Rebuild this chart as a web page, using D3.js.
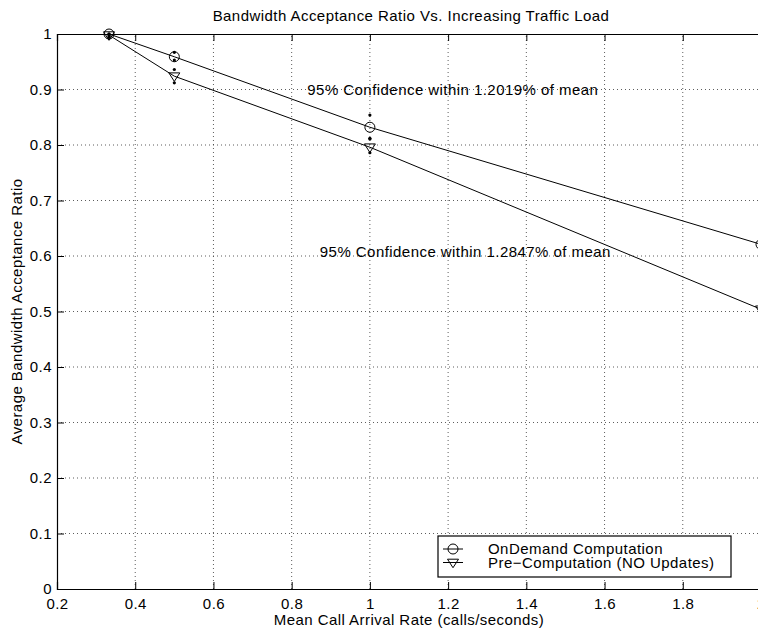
<!DOCTYPE html>
<html>
<head>
<meta charset="utf-8">
<script src="https://cdn.jsdelivr.net/npm/d3@7"></script>
<style>
  body { margin: 0; background: #fff; }
  text { font-family: "Liberation Sans", Arial, sans-serif; fill: #000; letter-spacing: 0.45px; }
</style>
</head>
<body>
<div id="chart"></div>
<script>
// Data
const arrivalRate = [0.333, 0.5, 1, 2];
const onDemand = [1.0, 0.959, 0.832, 0.621];
const onDemandLow = [0.997, 0.953, 0.811, 0.61];
const onDemandHigh = [1.0, 0.967, 0.854, 0.632];
const preComp = [0.998, 0.924, 0.796, 0.504];
const preCompLow = [0.994, 0.912, 0.786, 0.49];
const preCompHigh = [1.0, 0.936, 0.812, 0.518];

const xTicks = [0.2, 0.4, 0.6, 0.8, 1, 1.2, 1.4, 1.6, 1.8, 2];
const yTicks = [0, 0.1, 0.2, 0.3, 0.4, 0.5, 0.6, 0.7, 0.8, 0.9, 1];
const seriesNames = ["OnDemand Computation", "Pre\u2212Computation (NO Updates)"];
const notes = [
  { x: 0.84, y: 0.9, text: "95% Confidence within 1.2019% of mean" },
  { x: 0.872, y: 0.607, text: "95% Confidence within 1.2847% of mean" }
];

const W = 758, H = 630;
const margin = { top: 34, right: -3, bottom: 41, left: 57 };
const fs = "15px";

const svg = d3.select("#chart").append("svg")
  .attr("width", W)
  .attr("height", H);

const x = d3.scaleLinear().domain([0.2, 2]).range([margin.left, W - margin.right]);
const y = d3.scaleLinear().domain([0, 1]).range([H - margin.bottom, margin.top]);

// dotted grid
svg.append("g").selectAll("line")
  .data(xTicks.slice(1, -1))
  .join("line")
  .attr("x1", d => x(d)).attr("x2", d => x(d))
  .attr("y1", y(0)).attr("y2", y(1))
  .attr("stroke", "#333").attr("stroke-width", 0.8)
  .attr("stroke-dasharray", "1,3");

svg.append("g").selectAll("line")
  .data(yTicks.slice(1, -1))
  .join("line")
  .attr("x1", x(0.2)).attr("x2", x(2))
  .attr("y1", d => y(d)).attr("y2", d => y(d))
  .attr("stroke", "#333").attr("stroke-width", 0.8)
  .attr("stroke-dasharray", "1,3");

// axes (ticks inside)
const tickLen = 7;
const xAxis = svg.append("g")
  .attr("transform", `translate(0,${y(0)})`)
  .call(d3.axisBottom(x).tickValues(xTicks).tickSize(-tickLen).tickPadding(9).tickFormat(d3.format("")));
const xTop = svg.append("g")
  .attr("transform", `translate(0,${y(1)})`)
  .call(d3.axisTop(x).tickValues(xTicks).tickSize(-tickLen).tickFormat(""));
const yAxis = svg.append("g")
  .attr("transform", `translate(${x(0.2)},0)`)
  .call(d3.axisLeft(y).tickValues(yTicks).tickSize(-tickLen).tickPadding(5).tickFormat(d3.format("")));

[xAxis, xTop, yAxis].forEach(g => {
  g.select(".domain").attr("stroke", "#000").attr("stroke-width", 1.2);
  g.selectAll(".tick line").attr("stroke", "#000");
  g.selectAll(".tick text").style("font-size", fs).attr("fill", "#000");
});
xAxis.selectAll(".tick text").attr("dy", "0.71em");

// series lines
const line = d3.line().x(d => x(d[0])).y(d => y(d[1]));
const sets = [
  { vals: onDemand, lo: onDemandLow, hi: onDemandHigh, marker: "circle" },
  { vals: preComp, lo: preCompLow, hi: preCompHigh, marker: "triangle" }
];

const triPath = s => `M${-s},${-s * 0.6}L${s},${-s * 0.6}L0,${s * 0.95}Z`;

function drawMarker(g, type, cx, cy) {
  if (type === "circle") {
    g.append("circle").attr("cx", cx).attr("cy", cy).attr("r", 5)
      .attr("fill", "none").attr("stroke", "#000").attr("stroke-width", 1);
  } else {
    g.append("path").attr("d", triPath(5.5))
      .attr("transform", `translate(${cx},${cy})`)
      .attr("fill", "none").attr("stroke", "#000").attr("stroke-width", 1);
  }
}

sets.forEach(s => {
  const pts = arrivalRate.map((r, i) => [r, s.vals[i]]);
  svg.append("path").datum(pts)
    .attr("d", line)
    .attr("fill", "none").attr("stroke", "#000").attr("stroke-width", 1);

  // confidence bounds shown as dots
  const bounds = arrivalRate.flatMap((r, i) => [[r, s.lo[i]], [r, s.hi[i]]]);
  svg.append("g").selectAll("circle")
    .data(bounds)
    .join("circle")
    .attr("cx", d => x(d[0])).attr("cy", d => y(d[1]))
    .attr("r", 1.6).attr("fill", "#000");

  const mg = svg.append("g");
  pts.forEach(p => drawMarker(mg, s.marker, x(p[0]), y(p[1])));
});

// annotations
svg.append("g").selectAll("text")
  .data(notes)
  .join("text")
  .attr("x", d => x(d.x)).attr("y", d => y(d.y))
  .attr("dy", "0.35em")
  .style("font-size", fs)
  .text(d => d.text);

// title and axis labels
svg.append("text")
  .attr("x", 411).attr("y", 21)
  .attr("text-anchor", "middle")
  .style("font-size", fs)
  .text("Bandwidth Acceptance Ratio Vs. Increasing Traffic Load");

svg.append("text")
  .attr("x", 409).attr("y", 625)
  .attr("text-anchor", "middle")
  .style("font-size", fs)
  .text("Mean Call Arrival Rate (calls/seconds)");

svg.append("text")
  .attr("transform", `translate(22,${(y(0) + y(1)) / 2}) rotate(-90)`)
  .attr("text-anchor", "middle")
  .style("font-size", fs)
  .text("Average Bandwidth Acceptance Ratio");

// legend
const lg = svg.append("g").attr("transform", "translate(438,536)");
lg.append("rect").attr("width", 293).attr("height", 41)
  .attr("fill", "#fff").attr("stroke", "#000").attr("stroke-width", 1.2);
seriesNames.forEach((name, i) => {
  const ry = 13 + i * 13.5;
  lg.append("line").attr("x1", 5).attr("x2", 25).attr("y1", ry).attr("y2", ry)
    .attr("stroke", "#000");
  drawMarker(lg, sets[i].marker, 15, ry);
  lg.append("text").attr("x", 50).attr("y", ry).attr("dy", "0.35em")
    .style("font-size", fs).text(name);
});
</script>
</body>
</html>
